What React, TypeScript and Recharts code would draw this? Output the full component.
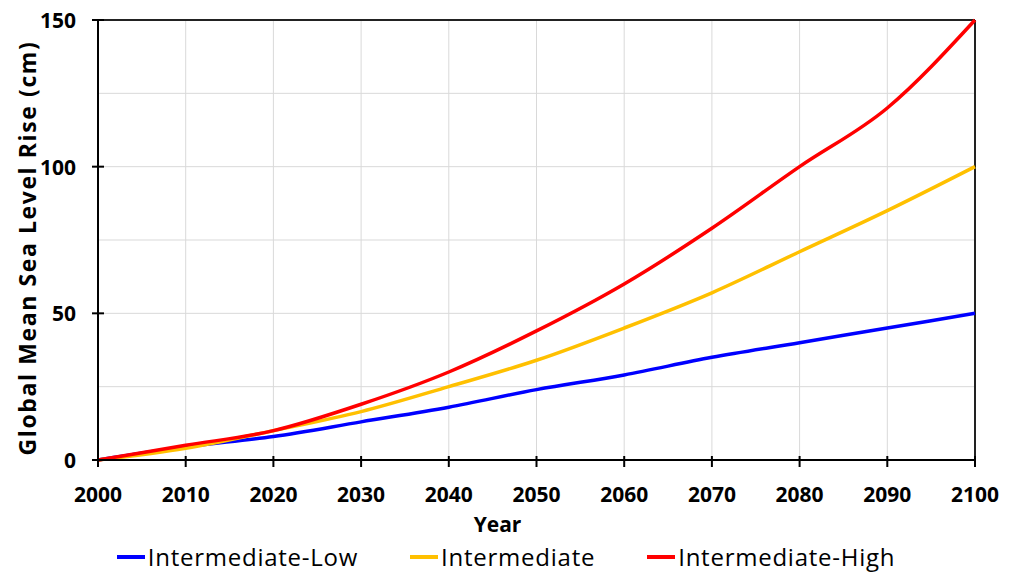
import React from "react";
import {
  LineChart,
  Line,
  XAxis,
  YAxis,
  CartesianGrid,
  Legend,
  ReferenceLine,
} from "recharts";

const years = [2000, 2010, 2020, 2030, 2040, 2050, 2060, 2070, 2080, 2090, 2100];
const intermediateLow = [0, 4.5, 8, 13, 18, 24, 29, 35, 40, 45, 50];
const intermediate = [0, 4, 10, 16.5, 25, 34, 45, 57, 71, 85, 100];
const intermediateHigh = [0, 5, 10, 19, 30, 44, 60, 79, 100, 120, 150];

const xTicks = [2000, 2010, 2020, 2030, 2040, 2050, 2060, 2070, 2080, 2090, 2100];
const yTicks = [0, 25, 50, 75, 100, 125, 150];

const data = years.map((year, i) => ({
  year,
  low: intermediateLow[i],
  mid: intermediate[i],
  high: intermediateHigh[i],
}));

const series = [
  { key: "low", name: "Intermediate-Low", color: "#0000ff" },
  { key: "mid", name: "Intermediate", color: "#ffc000" },
  { key: "high", name: "Intermediate-High", color: "#ff0000" },
];

const FONT = "'Open Sans', sans-serif";

const XTick = ({ x, y, payload }: any) => (
  <g>
    <line x1={x} x2={x} y1={y - 4} y2={y + 7} stroke="#000" strokeWidth={2} />
    <text
      x={x}
      y={y + 34}
      textAnchor="middle"
      dominantBaseline="central"
      fontFamily={FONT}
      fontWeight={700}
      fontSize={21}
      fill="#000"
    >
      {payload.value}
    </text>
  </g>
);

const YTick = ({ x, y, payload }: any) => {
  if (payload.value % 50 !== 0) return <g />;
  return (
    <g>
      <line x1={x - 6} x2={x + 6} y1={y} y2={y} stroke="#000" strokeWidth={2} />
      <text
        x={x - 22}
        y={y}
        textAnchor="end"
        dominantBaseline="central"
        fontFamily={FONT}
        fontWeight={700}
        fontSize={21}
        fill="#000"
      >
        {payload.value}
      </text>
    </g>
  );
};

const LegendContent = () => (
  <div
    style={{
      height: 33,
      display: "flex",
      justifyContent: "center",
      alignItems: "center",
      fontFamily: FONT,
      fontSize: 24,
      letterSpacing: 0.75,
      color: "#000",
    }}
  >
    {series.map((s) => (
      <div key={s.key} style={{ display: "flex", alignItems: "center", margin: "0 26px" }}>
        <div style={{ width: 28, height: 4, background: s.color, marginRight: 3 }} />
        <span>{s.name}</span>
      </div>
    ))}
  </div>
);

export default function App() {
  return (
    <div style={{ position: "absolute", left: 0, top: 0 }}>
      <LineChart
        width={1012}
        height={573}
        data={data}
        margin={{ top: 20, right: 37, bottom: 0, left: 0 }}
      >
        <CartesianGrid stroke="#d9d9d9" strokeWidth={1} />
        <XAxis
          dataKey="year"
          type="number"
          domain={[2000, 2100]}
          ticks={xTicks}
          height={80}
          tickSize={0}
          tickMargin={0}
          tickLine={false}
          axisLine={{ stroke: "#000", strokeWidth: 2 }}
          tick={<XTick />}
          label={{
            content: ({ viewBox }: any) => (
              <text
                x={viewBox.x + viewBox.width / 2 - 39}
                y={viewBox.y + 64}
                textAnchor="middle"
                dominantBaseline="central"
                fontFamily={FONT}
                fontWeight={700}
                fontSize={21}
                fill="#000"
              >
                Year
              </text>
            ),
          }}
        />
        <YAxis
          type="number"
          domain={[0, 150]}
          ticks={yTicks}
          width={98}
          tickSize={0}
          tickMargin={0}
          tickLine={false}
          axisLine={{ stroke: "#000", strokeWidth: 2 }}
          tick={<YTick />}
          label={{
            content: ({ viewBox }: any) => {
              const cx = viewBox.x + 27;
              const cy = viewBox.y + viewBox.height / 2 + 8;
              return (
                <text
                  x={cx}
                  y={cy}
                  transform={`rotate(-90, ${cx}, ${cy})`}
                  textAnchor="middle"
                  dominantBaseline="central"
                  fontFamily={FONT}
                  fontWeight={700}
                  fontSize={23}
                  letterSpacing={1.6}
                  fill="#000"
                >
                  Global Mean Sea Level Rise (cm)
                </text>
              );
            },
          }}
        />
        <ReferenceLine y={150} stroke="#222" strokeWidth={2} />
        <ReferenceLine x={2100} stroke="#222" strokeWidth={2} />
        {series.map((s) => (
          <Line
            key={s.key}
            type="monotone"
            dataKey={s.key}
            name={s.name}
            stroke={s.color}
            strokeWidth={3.5}
            dot={false}
            isAnimationActive={false}
          />
        ))}
        <Legend
          verticalAlign="bottom"
          content={<LegendContent />}
          wrapperStyle={{ left: 0, width: 1012 }}
        />
      </LineChart>
    </div>
  );
}
